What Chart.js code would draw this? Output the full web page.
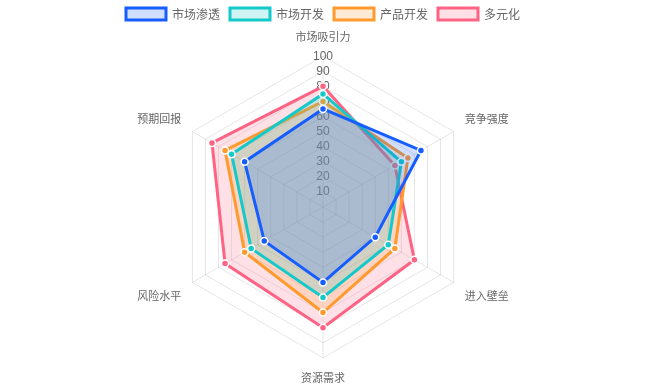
<!DOCTYPE html>
<html>
<head>
<meta charset="utf-8">
<script src="https://cdn.jsdelivr.net/npm/chart.js@4/dist/chart.umd.min.js"></script>
<style>
  html, body { margin: 0; padding: 0; background: #fff; }
  #wrap { width: 646px; height: 384px; }
</style>
</head>
<body>
<div id="wrap"><canvas id="radar"></canvas></div>
<script>
const dimensions = ['市场吸引力', '竞争强度', '进入壁垒', '资源需求', '风险水平', '预期回报'];
const penetration = [65, 75, 40, 50, 45, 60];
const marketDev = [75, 60, 50, 60, 55, 70];
const productDev = [70, 65, 55, 70, 60, 75];
const diversification = [80, 55, 70, 80, 75, 85];
const seriesNames = ['市场渗透', '市场开发', '产品开发', '多元化'];
// 0 is the centre; Chart.js never labels it
const tickValues = [0, 10, 20, 30, 40, 50, 60, 70, 80, 90, 100];

const colors = ['#165DFF', '#14C9C9', '#FF9A2E', '#FF6384'];
const fills = ['rgba(22,93,255,0.2)', 'rgba(20,201,201,0.2)', 'rgba(255,154,46,0.2)', 'rgba(255,99,132,0.2)'];
const seriesData = [penetration, marketDev, productDev, diversification];

const ctx = document.getElementById('radar').getContext('2d');
new Chart(ctx, {
  type: 'radar',
  data: {
    labels: dimensions,
    datasets: seriesNames.map((name, i) => ({
      label: name,
      data: seriesData[i],
      borderColor: colors[i],
      backgroundColor: fills[i],
      borderWidth: 3,
      pointRadius: 3.5,
      pointBackgroundColor: colors[i],
      pointBorderColor: '#fff',
      pointBorderWidth: 1.5,
      fill: true
    }))
  },
  options: {
    responsive: true,
    maintainAspectRatio: false,
    animation: false,
    layout: { padding: { top: -2 } },
    plugins: {
      legend: {
        position: 'top',
        labels: {
          boxWidth: 40,
          boxHeight: 12,
          color: '#666',
          font: { family: "'Noto Sans CJK SC', sans-serif", size: 12 }
        }
      },
      tooltip: { enabled: false }
    },
    scales: {
      r: {
        min: 0,
        max: 100,
        afterBuildTicks: scale => {
          scale.ticks = tickValues.map(v => ({ value: v }));
        },
        ticks: {
          showLabelBackdrop: false,
          color: '#666',
          font: { size: 12 }
        },
        grid: { color: 'rgba(0,0,0,0.1)' },
        angleLines: { color: 'rgba(0,0,0,0.1)' },
        pointLabels: {
          color: '#666',
          font: { family: "'Noto Sans CJK SC', sans-serif", size: 11 }
        }
      }
    }
  }
});
</script>
</body>
</html>
